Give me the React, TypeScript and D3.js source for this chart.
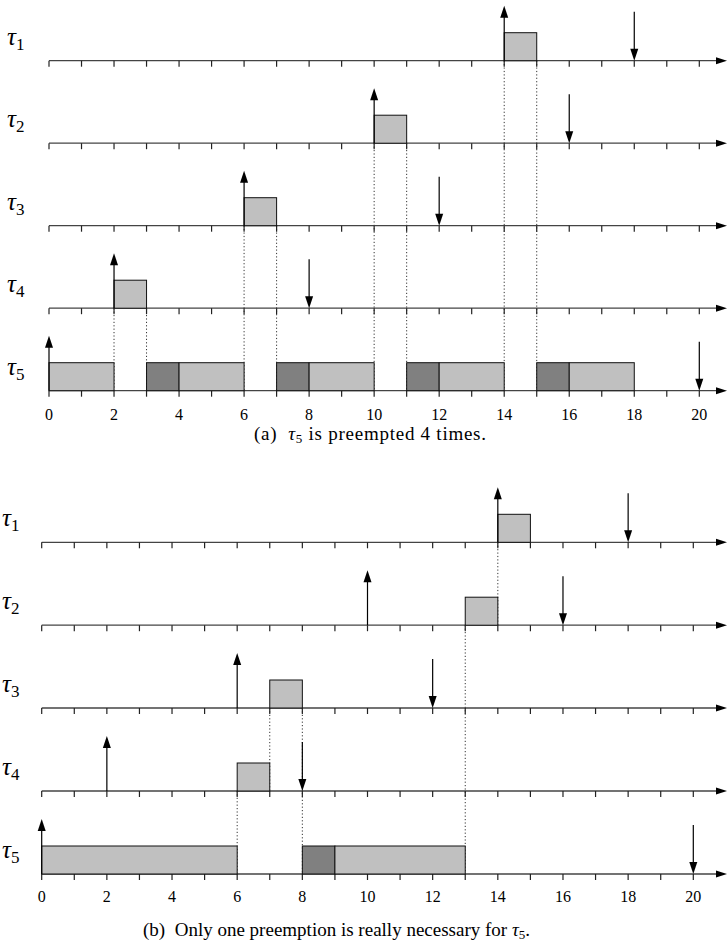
import React from "react";
import * as d3 from "d3";

// ---------- data ----------
const taskNames = ["1", "2", "3", "4", "5"];
const tickValues = d3.range(0, 21);
const tickLabels = [0, 2, 4, 6, 8, 10, 12, 14, 16, 18, 20];

// Panel (a)
const releasesA = [14, 10, 6, 2, 0];
const deadlinesA = [18, 16, 12, 8, 20];
const segTaskA = [0, 1, 2, 3, 4, 4, 4, 4, 4, 4, 4, 4, 4];
const segStartA = [14, 10, 6, 2, 0, 3, 4, 7, 8, 11, 12, 15, 16];
const segEndA = [15, 11, 7, 3, 2, 4, 6, 8, 10, 12, 14, 16, 18];
const segShadeA = ["l", "l", "l", "l", "l", "d", "l", "d", "l", "d", "l", "d", "l"];
const dotXA = [2, 3, 6, 7, 10, 11, 14, 15];
const dotFromA = [3, 3, 2, 2, 1, 1, 0, 0];
const dotToA = [4, 4, 4, 4, 4, 4, 4, 4];
const captionA = ["(a)  ", "5", " is preempted 4 times."];

// Panel (b)
const releasesB = [14, 10, 6, 2, 0];
const deadlinesB = [18, 16, 12, 8, 20];
const segTaskB = [0, 1, 2, 3, 4, 4, 4];
const segStartB = [14, 13, 7, 6, 0, 8, 9];
const segEndB = [15, 14, 8, 7, 6, 9, 13];
const segShadeB = ["l", "l", "l", "l", "l", "d", "l"];
const dotXB = [14, 13, 7, 8, 6];
const dotFromB = [0, 1, 2, 2, 3];
const dotToB = [1, 4, 3, 4, 4];
const captionB = ["(b)  Only one preemption is really necessary for ", "5", "."];

// ---------- styles ----------
const LIGHT = "#c0c0c0";
const DARK = "#808080";
const AXIS = "#444";
const SERIF = "'Liberation Serif', 'Times New Roman', serif";

type PanelProps = {
  x0: number;
  x20: number;
  rowYs: number[];
  releases: number[];
  deadlines: number[];
  segTask: number[];
  segStart: number[];
  segEnd: number[];
  segShade: string[];
  dotX: number[];
  dotFrom: number[];
  dotTo: number[];
  labelX: number;
  tickLabelY: number;
  caption: string[];
  captionX: number;
  captionY: number;
  captionW: number;
};

function UpArrow({ x, y0, y1 }: { x: number; y0: number; y1: number }) {
  const hl = 12, hw = 4;
  return (
    <g>
      <line x1={x} x2={x} y1={y0} y2={y1 + hl - 1} stroke="#000" strokeWidth={1.2} />
      <polygon points={`${x},${y1} ${x - hw},${y1 + hl} ${x + hw},${y1 + hl}`} fill="#000" />
    </g>
  );
}

function DownArrow({ x, y0, y1 }: { x: number; y0: number; y1: number }) {
  const hl = 12, hw = 4;
  return (
    <g>
      <line x1={x} x2={x} y1={y0} y2={y1 - hl + 1} stroke="#000" strokeWidth={1.2} />
      <polygon points={`${x},${y1} ${x - hw},${y1 - hl} ${x + hw},${y1 - hl}`} fill="#000" />
    </g>
  );
}

function Panel(p: PanelProps) {
  const x = d3.scaleLinear().domain([0, 20]).range([p.x0, p.x20]);
  const boxH = 28;
  const axisEnd = 727;
  const serif = { fontFamily: SERIF };
  return (
    <g>
      {p.dotX.map((v, i) => (
        <line
          key={"d" + i}
          x1={x(v)}
          x2={x(v)}
          y1={p.rowYs[p.dotFrom[i]]}
          y2={p.rowYs[p.dotTo[i]]}
          stroke="#333"
          strokeWidth={1}
          strokeDasharray="1.2,2.2"
        />
      ))}
      {p.rowYs.map((y, r) => (
        <g key={"r" + r}>
          <line x1={x(0)} x2={axisEnd - 10} y1={y} y2={y} stroke={AXIS} strokeWidth={1.3} />
          <polygon points={`${axisEnd},${y} ${axisEnd - 11},${y - 3.5} ${axisEnd - 11},${y + 3.5}`} fill="#000" />
          {tickValues.map((t) => (
            <line key={t} x1={x(t)} x2={x(t)} y1={y} y2={y + 6} stroke="#222" strokeWidth={1.2} />
          ))}
          <text x={p.labelX} y={y - 16} style={{ ...serif, fontStyle: "italic", fontSize: 25 }}>
            τ
            <tspan dy={5} style={{ ...serif, fontStyle: "normal", fontSize: 17 }}>
              {taskNames[r]}
            </tspan>
          </text>
        </g>
      ))}
      {p.segTask.map((t, i) => (
        <rect
          key={"s" + i}
          x={x(p.segStart[i])}
          y={p.rowYs[t] - boxH}
          width={x(p.segEnd[i]) - x(p.segStart[i])}
          height={boxH}
          fill={p.segShade[i] === "d" ? DARK : LIGHT}
          stroke="#111"
          strokeWidth={1}
        />
      ))}
      {p.releases.map((v, r) => (
        <UpArrow key={"u" + r} x={x(v)} y0={p.rowYs[r]} y1={p.rowYs[r] - 55} />
      ))}
      {p.deadlines.map((v, r) => (
        <DownArrow key={"w" + r} x={x(v)} y0={p.rowYs[r] - 49} y1={p.rowYs[r]} />
      ))}
      {tickLabels.map((t) => (
        <text key={"tl" + t} x={x(t)} y={p.tickLabelY} textAnchor="middle" style={{ ...serif, fontSize: 16 }}>
          {t}
        </text>
      ))}
      <text
        x={p.captionX}
        y={p.captionY}
        textLength={p.captionW}
        lengthAdjust="spacing"
        style={{ ...serif, fontSize: 19, whiteSpace: "pre" }}
      >
        {p.caption[0]}
        <tspan style={{ fontStyle: "italic" }}>τ</tspan>
        <tspan dy={3} style={{ fontSize: 13 }}>
          {p.caption[1]}
        </tspan>
        <tspan dy={-3}>{p.caption[2]}</tspan>
      </text>
    </g>
  );
}

export default function App() {
  return (
    <svg
      width={727}
      height={941}
      style={{ position: "absolute", left: 0, top: 0, background: "#fff" }}
    >
      <Panel
        x0={49}
        x20={699.3}
        rowYs={[60.7, 143.2, 225.7, 308.2, 390.7]}
        releases={releasesA}
        deadlines={deadlinesA}
        segTask={segTaskA}
        segStart={segStartA}
        segEnd={segEndA}
        segShade={segShadeA}
        dotX={dotXA}
        dotFrom={dotFromA}
        dotTo={dotToA}
        labelX={7}
        tickLabelY={420}
        caption={captionA}
        captionX={254}
        captionY={440}
        captionW={232}
      />
      <Panel
        x0={41.7}
        x20={693.3}
        rowYs={[542.3, 625.2, 708, 791, 874]}
        releases={releasesB}
        deadlines={deadlinesB}
        segTask={segTaskB}
        segStart={segStartB}
        segEnd={segEndB}
        segShade={segShadeB}
        dotX={dotXB}
        dotFrom={dotFromB}
        dotTo={dotToB}
        labelX={2}
        tickLabelY={902}
        caption={captionB}
        captionX={143}
        captionY={936}
        captionW={387}
      />
    </svg>
  );
}
